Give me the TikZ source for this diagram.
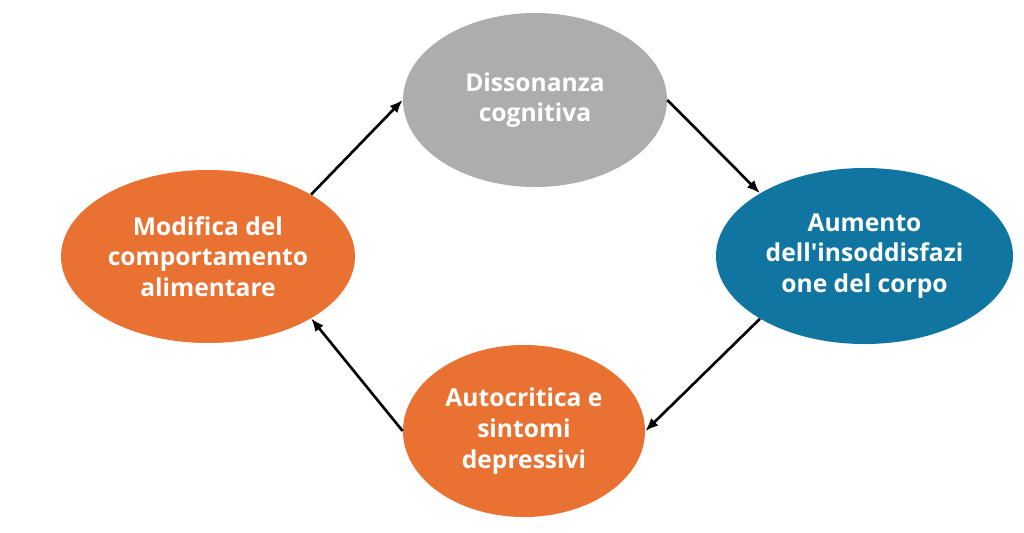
\documentclass[tikz,border=0pt]{standalone}
\usepackage{fontspec}
\setsansfont{Open Sans}
\usepackage{tikz}
\usepackage{xcolor}
\usetikzlibrary{shapes.geometric, arrows.meta}
\definecolor{cyorange}{RGB}{233, 113, 50}
\definecolor{cyblue}{RGB}{16, 117, 160}
\definecolor{cygray}{RGB}{173, 173, 173}
\tikzset{
    cynode/.style={ellipse, inner sep=0pt, align=center, text=white,
        font=\sffamily\bfseries\fontsize{14}{17.5}\selectfont},
    orangenode/.style={cynode, fill=cyorange},
    bluenode/.style={cynode, fill=cyblue},
    graynode/.style={cynode, fill=cygray},
    cyarrow/.style={-{Latex[length=2.6mm, width=2.1mm]}, line width=1.5pt, black}
}
\begin{document}
\begin{tikzpicture}
    \useasboundingbox (0,0) rectangle (20.48,-10.64);
    \node[graynode, minimum width=5.28cm, minimum height=3.48cm] (diss) at (10.70,-2.00) {Dissonanza\\cognitiva};
    \node[bluenode, minimum width=5.94cm, minimum height=3.52cm] (aum) at (17.29,-5.12) {Aumento\\dell\textquotesingle insoddisfazi\\one del corpo};
    \node[orangenode, minimum width=4.84cm, minimum height=3.44cm] (auto) at (10.48,-8.62) {Autocritica e\\sintomi\\depressivi};
    \node[orangenode, minimum width=5.88cm, minimum height=3.46cm] (mod) at (4.16,-5.13) {Modifica del\\comportamento\\alimentare};
    % cycle
    \draw[cyarrow] (mod.31) -- (diss.west);
    \draw[cyarrow] (diss.east) -- (aum.149);
    \draw[cyarrow] (aum.211) -- (auto.east);
    \draw[cyarrow] (auto.west) -- (mod.-31);
\end{tikzpicture}
\end{document}
